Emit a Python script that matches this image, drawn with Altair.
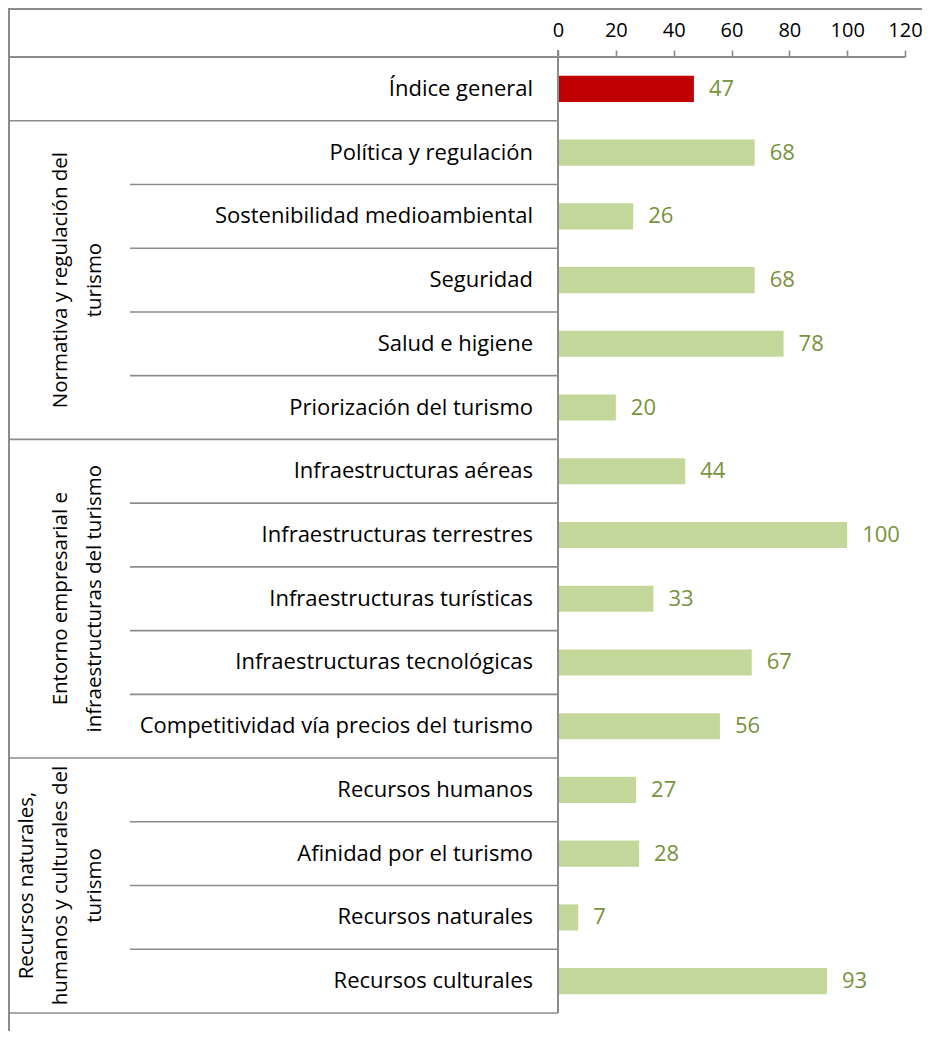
import altair as alt
import pandas as pd

categories = [
    "Índice general",
    "Política y regulación",
    "Sostenibilidad medioambiental",
    "Seguridad",
    "Salud e higiene",
    "Priorización del turismo",
    "Infraestructuras aéreas",
    "Infraestructuras terrestres",
    "Infraestructuras turísticas",
    "Infraestructuras tecnológicas",
    "Competitividad vía precios del turismo",
    "Recursos humanos",
    "Afinidad por el turismo",
    "Recursos naturales",
    "Recursos culturales",
]
values = [47, 68, 26, 68, 78, 20, 44, 100, 33, 67, 56, 27, 28, 7, 93]
kinds = ["general"] + ["pilar"] * 14
group_of = [-1, 0, 0, 0, 0, 0, 1, 1, 1, 1, 1, 2, 2, 2, 2]
group_titles = [
    ["Normativa y regulación del", "turismo"],
    ["Entorno empresarial e", "infraestructuras del turismo"],
    ["Recursos naturales,", "humanos y culturales del", "turismo"],
]
tick_values = [0, 20, 40, 60, 80, 100, 120]

FONT = "Open Sans"
GRAY = "#8C8C8C"
W, H = 897, 956
X0 = 550  # pixel of value 0 inside the plot
LH = 34
PAD_RIGHT = 17
PAD_BOTTOM = 18

df = pd.DataFrame({"cat": categories, "value": values, "kind": kinds})

# row separator lines
full_rows, inner_rows = [], []
for i, c in enumerate(categories):
    if i == 0:
        continue
    if group_of[i] != group_of[i - 1]:
        full_rows.append(c)
    else:
        inner_rows.append(c)
full_df = pd.DataFrame({"cat": full_rows})
inner_df = pd.DataFrame({"cat": inner_rows})
last_df = pd.DataFrame({"cat": [categories[-1]]})

yscale = alt.Scale(domain=categories, paddingInner=0, paddingOuter=0)
xscale = alt.Scale(domain=[0, 120], range=[X0, W], zero=False, nice=False)


def Y(bp=None):
    if bp is None:
        return alt.Y("cat:N", scale=yscale, axis=None, sort=categories)
    return alt.Y("cat:N", scale=yscale, axis=None, sort=categories, bandPosition=bp)


bars = alt.Chart(df).mark_bar(height=alt.RelativeBandSize(0.41)).encode(
    x=alt.X(
        "value:Q",
        scale=xscale,
        axis=alt.Axis(
            orient="top",
            values=tick_values,
            domain=False,
            grid=False,
            ticks=True,
            tickSize=7,
            tickColor=GRAY,
            tickWidth=1.6,
            labelFont=FONT,
            labelFontSize=20,
            labelColor="#000000",
            labelPadding=10,
            labelFlush=False,
            labelOverlap=False,
            title=None,
        ),
    ),
    y=Y(),
    color=alt.Color(
        "kind:N",
        scale=alt.Scale(domain=["general", "pilar"], range=["#C00000", "#C4D79B"]),
        legend=None,
    ),
)

value_labels = alt.Chart(df).mark_text(
    align="left", baseline="middle", dx=15, font=FONT, fontSize=22, color="#77933C"
).encode(x=alt.X("value:Q", scale=xscale), y=Y(), text="value:Q")

cat_labels = alt.Chart(df).mark_text(
    align="right", baseline="middle", font=FONT, fontSize=22, color="#000000"
).encode(x=alt.value(525), y=Y(), text="cat:N")

rule_style = dict(color=GRAY, strokeWidth=1.6)

full_lines = alt.Chart(full_df).mark_rule(**rule_style).encode(
    y=Y(0), x=alt.value(0), x2=alt.value(X0)
)
inner_lines = alt.Chart(inner_df).mark_rule(**rule_style).encode(
    y=Y(0), x=alt.value(122), x2=alt.value(X0)
)
bottom_line = alt.Chart(last_df).mark_rule(**rule_style).encode(
    y=Y(1), x=alt.value(0), x2=alt.value(X0)
)
axis_line = alt.Chart(df).mark_rule(**rule_style).encode(
    y=alt.value(0), x=alt.value(0), x2=alt.value(W)
)
zero_line = alt.Chart(df).mark_rule(**rule_style).encode(
    x=alt.datum(0, scale=xscale), y=alt.value(-7), y2=alt.value(H)
)
left_border = alt.Chart(df).mark_rule(**rule_style).encode(
    x=alt.value(1), y=alt.value(-48.5), y2=alt.value(H + PAD_BOTTOM)
)
top_border = alt.Chart(df).mark_rule(**rule_style).encode(
    y=alt.value(-48.5), x=alt.value(0), x2=alt.value(W + PAD_RIGHT)
)

# group labels (rotated, multi-line), one layer per group
grp_layers = []
for g, title in enumerate(group_titles):
    members = [c for c, gg in zip(categories, group_of) if gg == g]
    n = len(members)
    gdf = pd.DataFrame({"cat": [members[n // 2]], "lines": [title]})
    bp = 0.5 if n % 2 == 1 else 0
    first_x = 87 - (len(title) - 1) * LH
    grp_layers.append(
        alt.Chart(gdf).mark_text(
            angle=270, align="center", baseline="middle", font=FONT,
            fontSize=20.5, lineHeight=LH, color="#000000",
        ).encode(x=alt.value(first_x), y=Y(bp), text="lines")
    )

chart = alt.layer(
    full_lines, inner_lines, bottom_line, left_border, top_border,
    bars, zero_line, axis_line, value_labels, cat_labels, *grp_layers,
).properties(
    width=W,
    height=H,
    autosize=alt.AutoSizeParams(type="none"),
    padding={"left": 0, "top": 49, "right": PAD_RIGHT, "bottom": PAD_BOTTOM},
).configure_view(stroke=None)

chart.save("out.html", embed_options={"renderer": "svg", "actions": False})
